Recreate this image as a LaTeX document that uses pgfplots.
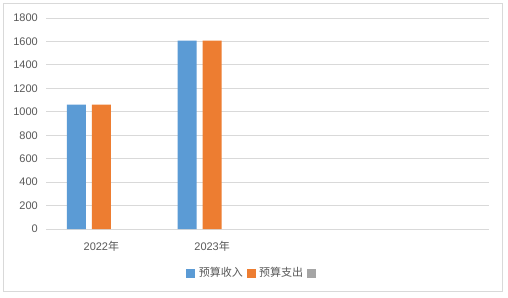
\documentclass[border=0pt]{standalone}
\usepackage{pgfplots}
\pgfplotsset{compat=1.18}
\usepackage{fontspec}
\setmainfont{Liberation Sans}
\newfontfamily\cjk{Noto Sans CJK SC}
\definecolor{barblue}{HTML}{5B9BD5}
\definecolor{barorange}{HTML}{ED7D31}
\definecolor{bargray}{HTML}{A5A5A5}
\definecolor{gridgray}{HTML}{D9D9D9}
\definecolor{txtgray}{HTML}{595959}
\begin{document}
\begin{tikzpicture}
\path[use as bounding box] (0pt,0pt) rectangle (508pt,297pt);
\fill[white] (0pt,0pt) rectangle (508pt,297pt);
\begin{axis}[
  at={(46pt,68pt)}, anchor=south west,
  scale only axis, width=443pt, height=211pt,
  xmin=-0.5, xmax=3.5, ymin=0, ymax=1800,
  xtick={0,1}, xticklabels={2022{\cjk 年},2023{\cjk 年}},
  ytick={0,200,...,1800},
  /pgf/number format/assume math mode=true,
  /pgf/number format/1000 sep={},
  ymajorgrids, grid style={draw=gridgray, line width=0.8pt},
  axis line style={draw=none},
  major tick length=0pt,
  tick label style={font=\fontsize{11}{13}\selectfont, text=txtgray, inner sep=0pt},
  yticklabel style={anchor=east, xshift=-8pt},
  xticklabel style={anchor=base, yshift=-21pt},
  legend style={at={(0.4684,-0.2085)}, anchor=center, draw=none, fill=none,
    legend columns=-1, column sep=4pt, nodes={inner sep=0pt},
    font=\fontsize{11}{13}\selectfont\cjk, text=txtgray},
]
\addplot[forget plot, ybar, bar width=19pt, bar shift=-25pt, fill=barblue, draw=none]
  coordinates {(0,1060) (1,1607)};
\addplot[forget plot, ybar, bar width=19pt, bar shift=0pt, fill=barorange, draw=none]
  coordinates {(0,1060) (1,1607)};
\addlegendimage{legend image code/.code={\fill[barblue] (0pt,-4pt) rectangle (8pt,4pt);}}
\addlegendentry{预算收入}
\addlegendimage{legend image code/.code={\fill[barorange] (0pt,-4pt) rectangle (8pt,4pt);}}
\addlegendentry{预算支出}
\addlegendimage{legend image code/.code={\fill[bargray] (0pt,-4pt) rectangle (8pt,4pt);}}
\addlegendentry{}
\end{axis}
\draw[gridgray, line width=0.8pt] (3pt,6pt) rectangle (502.5pt,294pt);
\end{tikzpicture}
\end{document}
